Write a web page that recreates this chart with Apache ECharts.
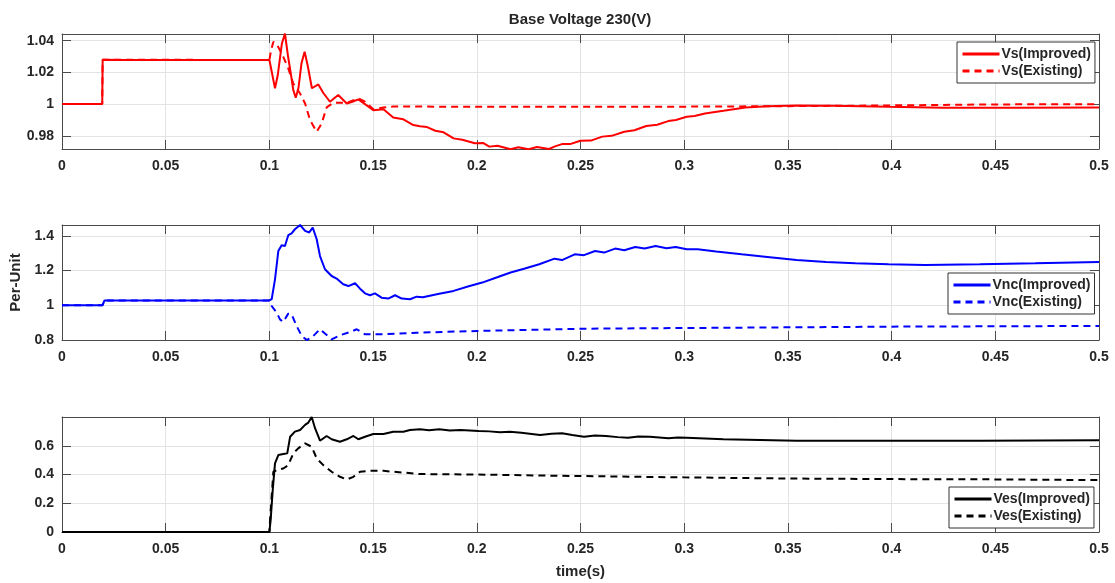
<!DOCTYPE html>
<html><head><meta charset="utf-8">
<script src="https://cdn.jsdelivr.net/npm/echarts@6/dist/echarts.min.js"></script>
<style>html,body{margin:0;padding:0;background:#fff}#c{width:1115px;height:583px}</style>
</head><body><div id="c"></div>
<script>
// ---------- data ----------
const xTicks = [0, 0.05, 0.1, 0.15, 0.2, 0.25, 0.3, 0.35, 0.4, 0.45, 0.5];
const vsTicks = [0.98, 1, 1.02, 1.04];
const vncTicks = [0.8, 1, 1.2, 1.4];
const vesTicks = [0, 0.2, 0.4, 0.6];

const vsImpT = [0,0.0194,0.0196,0.03,0.1,0.1005,0.1027,0.1040,0.1060,0.1075,0.1090,0.1100,0.1115,0.1127,0.1140,0.1155,0.1170,0.1185,0.1205,0.1236,0.1260,0.1292,0.1332,0.1373,0.1400,0.1429,0.1461,0.1501,0.1550,0.1597,0.1646,0.1694,0.1726,0.1760,0.1800,0.1840,0.1888,0.1930,0.1991,0.2030,0.2060,0.2100,0.2163,0.2200,0.2250,0.2290,0.2348,0.2380,0.2411,0.2450,0.2499,0.2550,0.2605,0.2650,0.2711,0.2760,0.2817,0.2870,0.2923,0.2960,0.3012,0.3050,0.3100,0.3189,0.3295,0.3401,0.3542,0.3719,0.3985,0.4250,0.4603,0.5];
const vsImpV = [1.0,1.0,1.028,1.0278,1.0278,1.027,1.010,1.018,1.038,1.0445,1.030,1.022,1.009,1.004,1.010,1.026,1.033,1.024,1.010,1.0124,1.007,1.0015,1.0057,1.0004,1.0015,1.003,1.000,0.9962,0.9967,0.9916,0.9904,0.9868,0.9860,0.9855,0.9832,0.9822,0.9784,0.9775,0.9753,0.9755,0.9732,0.9738,0.9715,0.9728,0.9715,0.9730,0.9717,0.9735,0.9748,0.9748,0.9769,0.9770,0.9795,0.9800,0.9826,0.9835,0.9862,0.9870,0.9893,0.9900,0.9920,0.9925,0.9941,0.9958,0.9979,0.9987,0.9992,0.9990,0.9983,0.9977,0.9977,0.9979];

const vsExT = [0,0.0194,0.0196,0.1,0.1008,0.1019,0.1035,0.1067,0.1091,0.1115,0.1148,0.1172,0.1196,0.1228,0.1252,0.1276,0.1308,0.1373,0.1429,0.1461,0.1501,0.155,0.1597,0.2,0.25,0.3,0.35,0.4,0.45,0.5];
const vsExV = [1.0,1.0,1.028,1.0278,1.034,1.0392,1.038,1.0298,1.0225,1.013,1.0067,1.0004,0.9899,0.9826,0.9878,0.9979,1.0008,1.0008,1.0036,1.0015,0.9967,0.9979,0.9985,0.9983,0.9983,0.9984,0.9987,0.9992,0.9998,1.0];

const vncImpT = [0,0.0195,0.0205,0.1,0.1011,0.1027,0.1043,0.1059,0.1075,0.1091,0.1107,0.1123,0.1148,0.1172,0.1192,0.1209,0.1228,0.1244,0.1268,0.13,0.1324,0.1356,0.1381,0.1413,0.1437,0.1461,0.1485,0.1509,0.1541,0.1573,0.1606,0.1638,0.1678,0.171,0.174,0.1768,0.1819,0.1888,0.1957,0.2026,0.2095,0.2163,0.2232,0.2301,0.2375,0.2411,0.2472,0.2517,0.257,0.2614,0.2667,0.2711,0.2764,0.2809,0.2862,0.2915,0.2959,0.3012,0.3065,0.3154,0.3277,0.3401,0.3542,0.3684,0.3825,0.3985,0.4161,0.4426,0.4692,0.5];
const vncImpV = [1.0,1.0,1.028,1.028,1.035,1.15,1.313,1.346,1.342,1.404,1.415,1.4385,1.463,1.429,1.42,1.448,1.381,1.284,1.208,1.169,1.154,1.121,1.111,1.127,1.096,1.069,1.058,1.069,1.044,1.039,1.058,1.039,1.035,1.05,1.046,1.054,1.067,1.083,1.108,1.131,1.16,1.189,1.212,1.237,1.269,1.261,1.294,1.289,1.313,1.304,1.327,1.317,1.336,1.327,1.342,1.329,1.336,1.323,1.323,1.31,1.294,1.279,1.261,1.25,1.242,1.237,1.233,1.237,1.242,1.25];

const vncExT = [0,0.0195,0.0205,0.1,0.1011,0.1035,0.1051,0.1067,0.1091,0.1107,0.1131,0.1156,0.118,0.1204,0.1244,0.1268,0.13,0.134,0.1389,0.1421,0.1461,0.155,0.171,0.2,0.24,0.25,0.3,0.35,0.4,0.45,0.5];
const vncExV = [1.0,1.0,1.028,1.028,0.996,0.958,0.919,0.904,0.952,0.948,0.881,0.823,0.8,0.814,0.862,0.837,0.804,0.827,0.846,0.862,0.833,0.833,0.842,0.852,0.862,0.865,0.869,0.873,0.877,0.879,0.881];

const vesImpT = [0,0.1,0.1006,0.1016,0.1027,0.1043,0.1067,0.1086,0.11,0.1123,0.1148,0.1172,0.1188,0.1204,0.122,0.1244,0.1276,0.13,0.134,0.1373,0.1405,0.1429,0.1461,0.1501,0.155,0.1597,0.1646,0.1678,0.1726,0.177,0.1819,0.187,0.1922,0.2009,0.206,0.2112,0.216,0.2215,0.2305,0.236,0.2411,0.246,0.2517,0.257,0.2623,0.268,0.2729,0.278,0.2835,0.2923,0.297,0.3012,0.3189,0.3366,0.3542,0.3808,0.4073,0.4427,0.5];
const vesImpV = [0,0,0.082,0.291,0.477,0.535,0.542,0.547,0.663,0.698,0.71,0.745,0.761,0.8,0.722,0.635,0.668,0.645,0.628,0.645,0.668,0.645,0.663,0.682,0.682,0.698,0.698,0.71,0.714,0.708,0.714,0.706,0.71,0.703,0.7,0.694,0.697,0.691,0.675,0.684,0.687,0.675,0.663,0.672,0.668,0.66,0.656,0.664,0.663,0.652,0.658,0.656,0.645,0.64,0.635,0.635,0.635,0.635,0.638];

const vesExT = [0,0.1,0.1003,0.1019,0.1035,0.1067,0.1091,0.1115,0.1139,0.1172,0.1204,0.1228,0.126,0.13,0.134,0.1373,0.1405,0.1437,0.1485,0.155,0.1597,0.1662,0.1726,0.2,0.23,0.3,0.35,0.4,0.45,0.5];
const vesExV = [0,0,0.08,0.419,0.43,0.442,0.465,0.547,0.582,0.617,0.593,0.512,0.465,0.419,0.384,0.365,0.384,0.419,0.426,0.426,0.419,0.412,0.403,0.4,0.393,0.38,0.372,0.368,0.366,0.361];

// ---------- chart ----------
const FONT = "'Liberation Sans', Arial, sans-serif";
const DARK = '#262626';
const BOX = '#4a4a4a';
const GRIDC = '#e3e3e3';
const pair = (t, v) => t.map((x, i) => [x, v[i]]);

const panels = [
  {top: 34, yMin: 0.9717, yMax: 1.0442, ticks: vsTicks},
  {top: 225, yMin: 0.8, yMax: 1.463, ticks: vncTicks},
  {top: 417, yMin: 0, yMax: 0.8, ticks: vesTicks}
];

const grids = [], xAxes = [], yAxes = [];
panels.forEach((p, i) => {
  grids.push({left: 62, right: 16, top: p.top, height: 115, outerBoundsMode: 'none', containLabel: false});
  const xBase = {
    type: 'value', gridIndex: i, min: 0, max: 0.5,
    axisLine: {show: true, onZero: false, lineStyle: {color: BOX, width: 1}},
    axisTick: {show: true, inside: true, length: 9, customValues: xTicks, lineStyle: {color: BOX}}
  };
  xAxes.push(Object.assign({}, xBase, {
    position: 'bottom',
    axisLabel: {show: true, customValues: xTicks, margin: 10, color: DARK, fontFamily: FONT, fontWeight: 'bold', fontSize: 14},
    splitLine: {show: true, lineStyle: {color: GRIDC, width: 1}},
    name: i === 2 ? 'time(s)' : '', nameLocation: 'middle', nameGap: 32,
    nameTextStyle: {color: DARK, fontFamily: FONT, fontWeight: 'bold', fontSize: 15}
  }));
  xAxes.push(Object.assign({}, xBase, {
    position: 'top', axisLabel: {show: false}, splitLine: {show: false}
  }));
  const yBase = {
    type: 'value', gridIndex: i, min: p.yMin, max: p.yMax,
    axisLine: {show: true, onZero: false, lineStyle: {color: BOX, width: 1}},
    axisTick: {show: true, inside: true, length: 9, customValues: p.ticks, lineStyle: {color: BOX}}
  };
  yAxes.push(Object.assign({}, yBase, {
    position: 'left',
    axisLabel: {show: true, customValues: p.ticks, margin: 8, color: DARK, fontFamily: FONT, fontWeight: 'bold', fontSize: 14},
    splitLine: {show: true, lineStyle: {color: GRIDC, width: 1}},
    name: i === 1 ? 'Per-Unit' : '', nameLocation: 'middle', nameGap: 32,
    nameTextStyle: {color: DARK, fontFamily: FONT, fontWeight: 'bold', fontSize: 15}
  }));
  yAxes.push(Object.assign({}, yBase, {
    position: 'right', axisLabel: {show: false}, splitLine: {show: false}
  }));
});

function line(name, t, v, color, dashed, idx) {
  return {
    name, type: 'line', xAxisIndex: idx * 2, yAxisIndex: idx * 2,
    data: pair(t, v), showSymbol: false, symbol: 'none', clip: true,
    lineStyle: {color, width: 2, type: dashed ? [7, 5] : 'solid'},
    itemStyle: {color}, animation: false
  };
}

const legendBase = {
  orient: 'vertical', itemWidth: 37, itemHeight: 14, itemGap: 3,
  padding: [5, 4, 5, 4], borderColor: '#333', borderWidth: 1, backgroundColor: '#fff',
  itemStyle: {opacity: 0},
  lineStyle: {width: 3},
  textStyle: {color: DARK, fontFamily: FONT, fontWeight: 'bold', fontSize: 14, padding: [0, 0, 0, -3]}
};

const option = {
  backgroundColor: '#fff',
  animation: false,
  grid: grids,
  xAxis: xAxes,
  yAxis: yAxes,
  legend: [
    Object.assign({}, legendBase, {left: 957, top: 42, data: ['Vs(Improved)', 'Vs(Existing)']}),
    Object.assign({}, legendBase, {left: 948, top: 273, data: ['Vnc(Improved)', 'Vnc(Existing)']}),
    Object.assign({}, legendBase, {left: 949, top: 487, data: ['Ves(Improved)', 'Ves(Existing)']})
  ],
  graphic: [{
    type: 'text', x: 580, y: 20,
    style: {text: 'Base Voltage 230(V)', align: 'center', verticalAlign: 'middle', fill: DARK, font: "bold 15px 'Liberation Sans', Arial, sans-serif"}
  }],
  series: [
    line('Vs(Improved)', vsImpT, vsImpV, '#ff0000', false, 0),
    line('Vs(Existing)', vsExT, vsExV, '#ff0000', true, 0),
    line('Vnc(Improved)', vncImpT, vncImpV, '#0000ff', false, 1),
    line('Vnc(Existing)', vncExT, vncExV, '#0000ff', true, 1),
    line('Ves(Improved)', vesImpT, vesImpV, '#000000', false, 2),
    line('Ves(Existing)', vesExT, vesExV, '#000000', true, 2)
  ]
};

const chart = echarts.init(document.getElementById('c'), null, {renderer: 'canvas'});
chart.setOption(option);
</script>
</body></html>
